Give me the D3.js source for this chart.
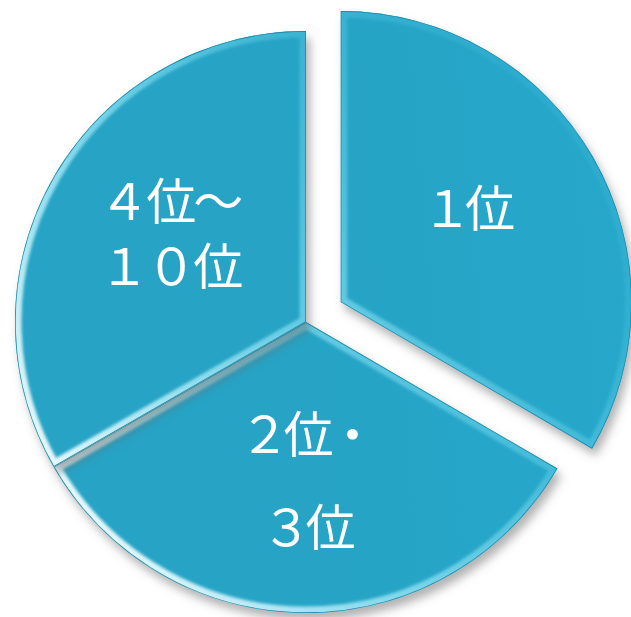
<!DOCTYPE html>
<html>
<head>
<meta charset="utf-8">
<script src="https://cdn.jsdelivr.net/npm/d3@7"></script>
<style>
  html, body { margin: 0; padding: 0; background: #ffffff; }
  svg { display: block; }
</style>
</head>
<body>
<svg id="chart"></svg>
<script>
// Slice data (three roughly equal parts)
const categories = ['1位', '2位・3位', '4位～10位'];
const values = [33.4, 33.3, 33.3];
const labelLines = [['１位'], ['２位・', '３位'], ['４位～', '１０位']];
const exploded = [true, false, false];

const width = 631, height = 617;
const center = { x: 306, y: 322 };
const radius = 291;
const explodeDist = 40;
const labelRadius = 155;
const lineGap = [0, 93, 65];
const labelNudge = [[-10, -20], [0, 1], [-2, -14]];
const letterSpacing = [-7, -6, -3];

const svg = d3.select('#chart').attr('width', width).attr('height', height);
const defs = svg.append('defs');

// Base fill gradient
const grad = defs.append('linearGradient')
    .attr('id', 'fillGrad')
    .attr('gradientUnits', 'userSpaceOnUse')
    .attr('x1', 15).attr('y1', 300).attr('x2', 630).attr('y2', 250);
grad.append('stop').attr('offset', '0%').attr('stop-color', '#28a3c5');
grad.append('stop').attr('offset', '50%').attr('stop-color', '#25a8cb');
grad.append('stop').attr('offset', '100%').attr('stop-color', '#22aed2');

// Edge highlight gradient (light catches left / lower-left rims)
const hl = defs.append('linearGradient')
    .attr('id', 'edgeGrad')
    .attr('gradientUnits', 'userSpaceOnUse')
    .attr('x1', 0).attr('y1', 500).attr('x2', 560).attr('y2', 100);
hl.append('stop').attr('offset', '0%').attr('stop-color', '#f0fdff').attr('stop-opacity', 0.95);
hl.append('stop').attr('offset', '40%').attr('stop-color', '#9ff0ff').attr('stop-opacity', 0.55);
hl.append('stop').attr('offset', '75%').attr('stop-color', '#5fd3ee').attr('stop-opacity', 0.2);
hl.append('stop').attr('offset', '100%').attr('stop-color', '#4cc8e6').attr('stop-opacity', 0.0);

// Drop shadow
const shadow = defs.append('filter').attr('id', 'shadow')
    .attr('x', '-10%').attr('y', '-10%').attr('width', '130%').attr('height', '130%');
shadow.append('feDropShadow')
    .attr('dx', 4).attr('dy', 7).attr('stdDeviation', 5)
    .attr('flood-color', '#666').attr('flood-opacity', 0.5);

// Soften the edge band
const soft = defs.append('filter').attr('id', 'soft');
soft.append('feGaussianBlur').attr('stdDeviation', 1.8);

const pie = d3.pie().sort(null).value(d => d).startAngle(0).endAngle(2 * Math.PI);
const arcs = pie(values);

const arc = d3.arc().innerRadius(0).outerRadius(radius);
const labelArc = d3.arc().innerRadius(labelRadius).outerRadius(labelRadius);

function offsetOf(d, i) {
    if (!exploded[i]) return [0, 0];
    const mid = (d.startAngle + d.endAngle) / 2;
    return [Math.sin(mid) * explodeDist, -Math.cos(mid) * explodeDist];
}

const g = svg.append('g').attr('transform', `translate(${center.x},${center.y})`);

const slices = g.selectAll('.slice')
    .data(arcs)
    .join('g')
    .attr('class', 'slice')
    .attr('transform', (d, i) => {
        const [ox, oy] = offsetOf(d, i);
        return `translate(${ox},${oy})`;
    });

slices.each(function(d, i) {
    const s = d3.select(this);
    const path = arc(d);
    defs.append('clipPath').attr('id', 'clip' + i)
        .append('path').attr('d', path);

    s.append('path')
        .attr('d', path)
        .attr('fill', 'url(#fillGrad)')
        .attr('filter', 'url(#shadow)');

    const bevel = s.append('g').attr('clip-path', `url(#clip${i})`);
    // bright bevel band
    bevel.append('path')
        .attr('d', path)
        .attr('fill', 'none')
        .attr('stroke', 'url(#edgeGrad)')
        .attr('stroke-width', 13)
        .attr('filter', 'url(#soft)');
    // thin rim
    bevel.append('path')
        .attr('d', path)
        .attr('fill', 'none')
        .attr('stroke', '#1a87a6')
        .attr('stroke-width', 1.5);
});

// Labels
slices.append('text')
    .attr('class', 'label')
    .attr('transform', (d, i) => {
        const [cx, cy] = labelArc.centroid(d);
        return `translate(${cx + labelNudge[i][0]},${cy + labelNudge[i][1]})`;
    })
    .attr('text-anchor', 'middle')
    .style('font-family', '"Noto Sans CJK JP", sans-serif')
    .style('font-size', '50px')
    .style('letter-spacing', (d, i) => letterSpacing[i] + 'px')
    .style('fill', '#ffffff')
    .each(function(d, i) {
        const lines = labelLines[i];
        const gap = lineGap[i];
        const t = d3.select(this);
        lines.forEach((line, k) => {
            t.append('tspan')
                .attr('x', 0)
                .attr('y', (k - (lines.length - 1) / 2) * gap)
                .attr('dominant-baseline', 'central')
                .text(line);
        });
    });
</script>
</body>
</html>
